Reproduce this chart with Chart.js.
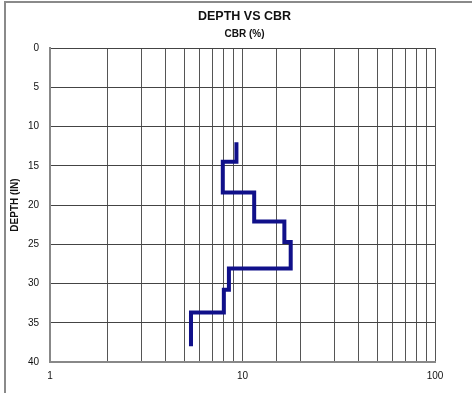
<!DOCTYPE html>
<html>
<head>
<meta charset="utf-8">
<title>Depth vs CBR</title>
<script src="https://cdn.jsdelivr.net/npm/chart.js@4.4.1/dist/chart.umd.min.js"></script>
<style>
  html, body { margin: 0; padding: 0; background: #fff; }
  #wrap { width: 472px; height: 393px; }
</style>
</head>
<body>
<div id="wrap"><canvas id="cbr"></canvas></div>
<script>
// layer boundaries (in) and CBR of each layer between them
const layerDepths = [12, 14.5, 18.4, 22.1, 24.7, 28.1, 30.8, 33.7, 38];
const layerCbr    = [9.3, 7.9, 11.5, 16.5, 17.8, 8.5, 8.0, 5.4];
const depthTicks  = [0, 5, 10, 15, 20, 25, 30, 35, 40];
const cbrLabels   = [1, 10, 100];

const chartTitle = 'DEPTH VS CBR';
const cbrTitle   = 'CBR (%)';

// every layer becomes a vertical run, joined to the next one by a horizontal step
const profile = [];
layerCbr.forEach((v, i) => {
  profile.push({ x: v, y: layerDepths[i] });
  profile.push({ x: v, y: layerDepths[i + 1] });
});

const FONT = "'Liberation Sans', Arial, sans-serif";

// sheet frame (left and top edges) plus the two headings centred over the plot
const framePlugin = {
  id: 'frame',
  beforeDraw(chart) {
    const ctx = chart.ctx;
    ctx.save();
    ctx.strokeStyle = '#8a8a8a';
    ctx.lineWidth = 2;
    ctx.beginPath();
    ctx.moveTo(5, chart.height);
    ctx.lineTo(5, 2);
    ctx.lineTo(chart.width, 2);
    ctx.stroke();
    ctx.restore();
  },
  afterDraw(chart) {
    const { ctx, chartArea } = chart;
    const cx = (chartArea.left + chartArea.right) / 2 + 2;
    ctx.save();
    ctx.fillStyle = '#111';
    ctx.textAlign = 'center';
    ctx.textBaseline = 'middle';
    ctx.font = `bold 12.5px ${FONT}`;
    ctx.fillText(chartTitle, cx, 17);
    ctx.font = `bold 10px ${FONT}`;
    ctx.fillText(cbrTitle, cx, 34);
    ctx.restore();
  }
};

new Chart(document.getElementById('cbr'), {
  type: 'scatter',
  data: {
    datasets: [{
      data: profile,
      showLine: true,
      borderColor: '#10108a',
      borderWidth: 4,
      borderCapStyle: 'butt',
      borderJoinStyle: 'miter',
      pointRadius: 0,
      tension: 0
    }]
  },
  options: {
    responsive: true,
    maintainAspectRatio: false,
    animation: false,
    layout: { padding: { left: 0, right: 37, top: 48, bottom: 0 } },
    plugins: {
      legend: { display: false },
      tooltip: { enabled: false }
    },
    scales: {
      x: {
        type: 'logarithmic',
        min: 1,
        max: 100,
        afterFit(scale) { scale.height = 31; },
        grid: { color: '#555', lineWidth: 1, drawTicks: false },
        border: { color: '#888', width: 2 },
        ticks: {
          color: '#111',
          font: { family: FONT, size: 10 },
          padding: 8,
          maxRotation: 0,
          autoSkip: false,
          callback: v => cbrLabels.includes(v) ? String(v) : ''
        }
      },
      y: {
        reverse: true,
        min: depthTicks[0],
        max: depthTicks[depthTicks.length - 1],
        afterFit(scale) { scale.width = 50; },
        afterBuildTicks(scale) { scale.ticks = depthTicks.map(v => ({ value: v })); },
        grid: { color: '#444', lineWidth: 1, drawTicks: false },
        border: { color: '#888', width: 2 },
        ticks: {
          color: '#111',
          font: { family: FONT, size: 10 },
          padding: 11
        },
        title: {
          display: true,
          text: 'DEPTH (IN)',
          color: '#111',
          font: { family: FONT, size: 10, weight: 'bold' },
          padding: { top: 9, bottom: 0 }
        }
      }
    }
  },
  plugins: [framePlugin]
});
</script>
</body>
</html>
